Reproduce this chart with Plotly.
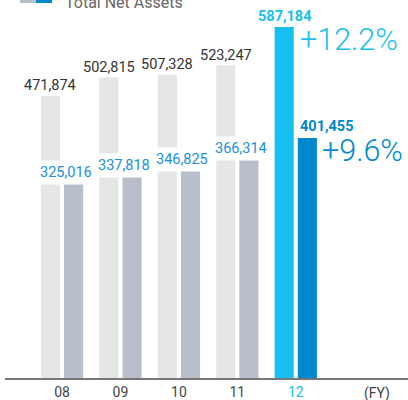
import plotly.graph_objects as go

years = ["08", "09", "10", "11", "12"]
total_assets = [471874, 502815, 507328, 523247, 587184]
net_assets = [325016, 337818, 346825, 366314, 401455]
growth_total = "+12.2%"
growth_net = "+9.6%"

LIGHT = "#E5E6E8"
GREY = "#B9BFCA"
CYAN = "#17C0F0"
BLUE = "#0088CC"
LBLUE = "#1A90D8"
FONT = "Roboto"

x = list(range(len(years)))
fig = go.Figure()
fig.add_bar(x=x, y=total_assets, marker_color=[LIGHT]*4 + [CYAN], marker_line_width=0,
            offsetgroup="a", hoverinfo="skip")
fig.add_bar(x=x, y=net_assets, marker_color=[GREY]*4 + [BLUE], marker_line_width=0,
            offsetgroup="b", hoverinfo="skip")

ann = []
for i in range(4):
    ann.append(dict(x=i - 0.2, y=total_assets[i], yshift=10, text=f"{total_assets[i]:,}",
                    showarrow=False, yanchor="middle", font=dict(family=FONT, size=14.5, color="#333333")))
    ann.append(dict(x=i + 0.06, y=net_assets[i], yshift=11, text=f"{net_assets[i]:,}",
                    showarrow=False, yanchor="middle", bgcolor="white", borderpad=3,
                    font=dict(family=FONT, size=14.5, color=LBLUE)))
ann.append(dict(x=4 - 0.2, y=total_assets[4], yshift=10, text=f"<b>{total_assets[4]:,}</b>",
                showarrow=False, yanchor="middle", font=dict(family=FONT, size=14.5, color=CYAN)))
ann.append(dict(x=4 + 0.03, y=net_assets[4], yshift=12, text=f"<b>{net_assets[4]:,}</b>",
                showarrow=False, yanchor="middle", xanchor="left", font=dict(family=FONT, size=14.5, color=BLUE)))
ann.append(dict(x=4.04, y=total_assets[4], yshift=-13, text=growth_total, showarrow=False,
                xanchor="left", yanchor="middle",
                font=dict(family=FONT, size=30.5, color=CYAN, weight=300)))
ann.append(dict(x=4.42, y=net_assets[4], yshift=-12, text=growth_net, showarrow=False,
                xanchor="left", yanchor="middle",
                font=dict(family=FONT, size=30.5, color=BLUE, weight=300)))
ann.append(dict(x=5.39, y=0, yref="y", yshift=-15, text="(FY)", showarrow=False,
                yanchor="middle", font=dict(family=FONT, size=14, color="#444444")))
# legend fragment at top
ann.append(dict(xref="paper", yref="paper", x=(63 - 5) / 403, y=1, yshift=18,
                text="Total Net Assets", showarrow=False, xanchor="left", yanchor="middle",
                font=dict(family=FONT, size=16, color="#666666")))

fig.update_layout(
    width=408, height=400, margin=dict(l=5, r=0, t=20, b=22),
    paper_bgcolor="white", plot_bgcolor="white", showlegend=False,
    barmode="group", bargap=0.207, bargroupgap=0.174,
    annotations=ann,
    xaxis=dict(range=[-0.976, 5.92], tickvals=x,
               ticktext=years[:4] + [f"<span style='color:{CYAN}'>{years[4]}</span>"],
               showgrid=False, zeroline=False, showline=True, linecolor="#777777", linewidth=1.5,
               ticks="", tickfont=dict(family=FONT, size=14, color="#444444")),
    yaxis=dict(range=[0, 598870], visible=False, showgrid=False),
)

# legend swatches
fig.add_shape(type="rect", xref="paper", yref="paper", x0=(20 - 5) / 403, x1=(36 - 5) / 403,
              y0=1 + 17 / 358, y1=1 + 23 / 358, line_width=0, fillcolor=GREY)
fig.add_shape(type="rect", xref="paper", yref="paper", x0=(36 - 5) / 403, x1=(52 - 5) / 403,
              y0=1 + 17 / 358, y1=1 + 23 / 358, line_width=0, fillcolor=BLUE)

fig.write_html("out.html", config={"displayModeBar": False},
               post_script="document.body.style.margin='0';")
